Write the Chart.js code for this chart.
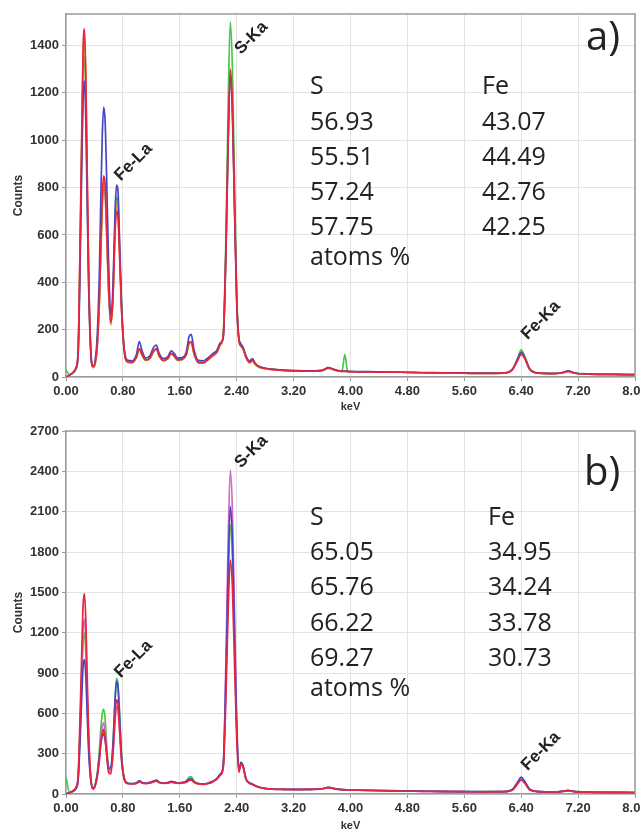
<!DOCTYPE html>
<html><head><meta charset="utf-8">
<script src="https://cdn.jsdelivr.net/npm/chart.js@4/dist/chart.umd.min.js"></script>
<style>
html,body{margin:0;padding:0;background:#fff;}
#wrap{position:relative;width:641px;height:836px;overflow:hidden;background:#fff;}
.pane{position:absolute;left:0;width:641px;height:418px;}
canvas{display:block;}
</style></head><body>
<div id="wrap">
<div class="pane" style="top:0"><canvas id="ca" width="641" height="418"></canvas></div>
<div class="pane" style="top:418px"><canvas id="cb" width="641" height="418"></canvas></div>
</div>
<script>
// ---------- data ----------
const energyKeV = [
 0.00,0.05,0.10,0.14,0.17,0.20,0.22,0.24,0.26,0.28,
 0.30,0.32,0.35,0.38,0.41,0.44,0.47,0.49,0.51,0.53,
 0.55,0.57,0.60,0.63,0.66,0.69,0.71,0.73,0.75,0.78,
 0.82,0.87,0.93,0.99,1.03,1.07,1.12,1.18,1.23,1.27,
 1.31,1.37,1.43,1.48,1.52,1.57,1.63,1.69,1.73,1.76,
 1.80,1.86,1.93,2.00,2.06,2.12,2.17,2.21,2.25,2.28,
 2.31,2.34,2.37,2.40,2.43,2.46,2.49,2.53,2.58,2.62,
 2.66,2.72,2.80,2.90,3.05,3.25,3.45,3.60,3.69,3.78,
 3.88,3.92,3.96,4.10,4.40,4.70,5.00,5.30,5.60,5.90,
 6.15,6.28,6.35,6.40,6.45,6.52,6.65,6.85,6.98,7.06,
 7.14,7.35,7.70,8.00];

const xTickKeV = [0,0.8,1.6,2.4,3.2,4.0,4.8,5.6,6.4,7.2,8.0];
const yTicksA = [0,200,400,600,800,1000,1200,1400];
const yTicksB = [0,300,600,900,1200,1500,1800,2100,2400,2700];
const yMaxA = 1533;
const yMaxB = 2700;

// panel a spectra (counts)
const redA = [
 0,8,20,40,110,600,1000,1380,1470,1250,
 820,420,110,45,60,140,340,560,760,850,
 810,650,370,230,330,610,700,680,540,290,
 110,65,62,85,120,95,72,80,110,120,
 90,70,78,100,90,72,75,95,145,150,
 100,62,60,75,90,105,140,170,560,1010,
 1300,1140,720,330,160,130,120,85,62,70,
 55,42,36,32,28,26,25,27,38,30,
 24,24,23,22,21,20,18,17,16,15,
 16,32,70,95,78,32,16,14,18,24,
 17,12,11,10];
const greenA = [
 30,10,18,35,95,560,930,1270,1350,1150,
 760,390,100,40,55,130,320,530,720,800,
 770,620,350,220,340,650,760,740,580,300,
 105,62,60,82,115,92,70,78,105,118,
 88,68,76,98,88,70,73,92,140,145,
 98,60,58,74,88,103,135,175,620,1150,
 1500,1300,820,360,165,135,118,82,60,68,
 52,40,35,31,28,26,25,27,36,29,
 24,95,24,22,21,20,18,17,16,15,
 16,35,80,115,88,35,16,14,18,25,
 17,12,11,10];
const blueA = [
 0,8,18,35,90,500,860,1170,1250,1060,
 700,360,95,45,70,180,450,760,1020,1140,
 1080,860,470,260,380,700,810,790,610,320,
 115,70,68,95,150,110,80,90,125,135,
 100,78,85,110,100,80,82,105,170,180,
 115,70,68,82,98,112,145,165,540,990,
 1270,1110,700,320,165,140,125,90,68,78,
 58,44,38,33,29,27,26,29,40,31,
 25,25,24,23,22,20,19,18,17,16,
 17,34,76,105,82,34,17,15,19,26,
 18,13,11,10];
const orangeA = [
 0,8,19,38,105,590,980,1350,1440,1220,
 800,410,105,42,58,135,330,545,735,820,
 790,630,360,225,335,630,730,710,560,295,
 108,63,61,84,118,93,71,79,108,119,
 89,69,77,99,89,71,74,94,142,148,
 99,61,59,74,89,104,138,168,555,1000,
 1290,1130,715,325,160,130,119,84,61,70,
 54,41,35,31,28,26,25,27,37,30,
 24,24,23,22,21,20,18,17,16,15,
 16,33,74,100,80,33,16,14,18,24,
 17,12,11,10];

// panel b spectra (counts)
const redB = [
 0,10,25,50,130,620,1020,1400,1490,1270,
 830,430,120,40,60,130,250,370,450,480,
 420,300,160,150,300,580,700,670,520,260,
 110,78,75,78,92,82,78,82,90,98,
 85,80,82,88,84,80,82,88,100,105,
 88,75,72,78,90,110,140,190,750,1360,
 1740,1530,960,420,160,220,200,110,80,70,
 60,48,40,36,34,33,34,38,48,38,
 32,31,30,28,25,22,20,18,17,16,
 17,30,75,105,80,30,17,15,19,25,
 18,13,12,11];
const greenB = [
 125,12,22,45,110,500,830,1130,1200,1020,
 670,350,100,38,70,160,330,490,600,630,
 560,380,200,180,360,700,860,820,640,300,
 115,80,78,82,98,85,80,85,95,102,
 88,82,84,92,88,82,84,95,125,130,
 95,78,74,80,92,112,145,200,860,1560,
 2000,1760,1100,480,170,230,205,112,82,72,
 62,50,42,37,35,34,35,39,50,39,
 33,32,31,29,26,23,21,19,18,17,
 18,32,80,110,84,32,18,16,20,26,
 19,14,12,11];
const blueB = [
 0,10,20,40,100,420,700,950,1000,860,
 570,300,95,40,65,140,280,380,430,450,
 400,310,190,200,370,700,840,800,620,290,
 112,80,78,82,98,86,80,86,96,104,
 88,82,84,94,90,82,84,95,110,115,
 92,78,75,82,94,115,150,205,920,1670,
 2140,1880,1180,510,180,235,210,115,84,74,
 63,50,42,37,35,34,35,39,50,40,
 33,32,31,29,26,23,21,19,18,17,
 18,36,90,125,95,36,18,16,20,27,
 19,14,12,11];
const magentaB = [
 0,10,22,45,115,540,890,1220,1300,1110,
 730,380,105,38,62,145,290,420,500,530,
 470,340,180,170,290,540,650,625,490,250,
 108,76,74,78,90,82,77,82,90,97,
 85,79,81,88,84,79,81,88,102,106,
 88,75,72,78,90,110,145,210,1040,1890,
 2410,2110,1330,570,175,225,205,112,82,72,
 61,49,41,36,34,33,34,38,48,38,
 32,31,30,28,25,22,20,18,17,16,
 17,33,82,115,86,33,17,15,19,25,
 18,13,12,11];

// composition tables (atoms %)
const colHeads = ['S','Fe'];
const sAtomsA  = ['56.93','55.51','57.24','57.75'];
const feAtomsA = ['43.07','44.49','42.76','42.25'];
const sAtomsB  = ['65.05','65.76','66.22','69.27'];
const feAtomsB = ['34.95','34.24','33.78','30.73'];
const unitLabel = 'atoms %';

// peak labels anchored in data coordinates (keV, counts)
const peakNames = ['S-Ka','Fe-La','Fe-Ka'];
const peakKeVA = [2.46, 0.77, 6.49];
const peakCntA = [1360, 826, 155];
const peakKeVB = [2.46, 0.77, 6.49];
const peakCntB = [2420, 860, 170];

// ---------- rendering ----------
const TXT = '#222222';
const AX = '#9a9a9a';
const GRID = '#e3e3e3';

function pts(arr){ return energyKeV.map((e,i)=>({x:e, y:arr[i]})); }

function ds(arr, color){
  return {data: pts(arr), borderColor: color, borderWidth: 1.7, pointRadius: 0,
          fill: false, cubicInterpolationMode: 'monotone'};
}

function overlay(cfg){
  return {
    id: 'overlay',
    afterDatasetsDraw(chart){
      const ctx = chart.ctx, a = chart.chartArea;
      const xs = chart.scales.x, ys = chart.scales.y;
      ctx.save();
      // box top + right
      ctx.strokeStyle = AX; ctx.lineWidth = 1.5;
      ctx.beginPath();
      ctx.moveTo(a.left, a.top); ctx.lineTo(a.right, a.top); ctx.lineTo(a.right, a.bottom);
      ctx.stroke();
      // composition table
      ctx.fillStyle = TXT;
      ctx.font = '25px "Open Sans"';
      ctx.textBaseline = 'alphabetic';
      ctx.textAlign = 'left';
      ctx.fillText(colHeads[0], cfg.colX[0], cfg.rowY[0]);
      ctx.fillText(colHeads[1], cfg.colX[1], cfg.rowY[0]);
      for (let i = 0; i < cfg.s.length; i++){
        ctx.fillText(cfg.s[i], cfg.colX[0], cfg.rowY[i+1]);
        ctx.fillText(cfg.fe[i], cfg.colX[1], cfg.rowY[i+1]);
      }
      ctx.fillText(unitLabel, cfg.colX[0], cfg.rowY[5]);
      // panel letter
      ctx.font = '40px "Open Sans"';
      ctx.fillText(cfg.letter, cfg.letterX, cfg.letterY);
      // peak labels
      ctx.font = 'bold 17px "Liberation Sans"';
      for (let i = 0; i < peakNames.length; i++){
        const px = xs.getPixelForValue(cfg.pk[i]);
        const py = ys.getPixelForValue(cfg.pc[i]);
        ctx.save();
        ctx.translate(px, py);
        ctx.rotate(-Math.PI/4);
        ctx.fillText(peakNames[i], 0, 0);
        ctx.restore();
      }
      ctx.restore();
    }
  };
}

function makeChart(id, sets, yTicks, yMax, topPad, xH, keVPad, cfg){
  return new Chart(document.getElementById(id), {
    type: 'line',
    data: {datasets: sets},
    options: {
      responsive: false, animation: false, devicePixelRatio: 1,
      parsing: false, normalized: true,
      layout: {autoPadding: false, padding: {left: 0, right: 6, top: topPad, bottom: 0}},
      plugins: {legend: {display: false}, tooltip: {enabled: false}},
      scales: {
        x: {
          type: 'linear', min: 0, max: 8,
          afterBuildTicks: s => { s.ticks = xTickKeV.map(v => ({value: v})); },
          afterFit: s => { s.height = xH; s.paddingLeft = 0; s.paddingRight = 0; },
          ticks: {autoSkip: false, maxRotation: 0, padding: 3, color: '#333',
                  font: {family: '"Liberation Sans", Arial', size: 13, weight: 'bold'},
                  callback: v => Number(v).toFixed(2)},
          grid: {color: GRID, lineWidth: 1, tickLength: 4, tickColor: AX},
          border: {color: AX, width: 1.5},
          title: {display: true, text: 'keV', color: '#333',
                  font: {family: '"Liberation Sans", Arial', size: 11, weight: 'bold'},
                  padding: {top: 0, bottom: keVPad}}
        },
        y: {
          type: 'linear', min: 0, max: yMax,
          afterBuildTicks: s => { s.ticks = yTicks.map(v => ({value: v})); },
          afterFit: s => { s.width = 66; s.paddingTop = 0; s.paddingBottom = 0; },
          ticks: {padding: 3, color: '#333',
                  font: {family: '"Liberation Sans", Arial', size: 13, weight: 'bold'},
                  callback: v => String(v)},
          grid: {color: GRID, lineWidth: 1, tickLength: 4, tickColor: AX},
          border: {color: AX, width: 1.5},
          title: {display: true, text: 'Counts', color: '#333',
                  font: {family: '"Liberation Sans", Arial', size: 12, weight: 'bold'},
                  padding: {top: 11, bottom: 0}}
        }
      }
    },
    plugins: [overlay(cfg)]
  });
}

makeChart('ca',
  [ds(redA,'#e8253c'), ds(blueA,'#4646c8'), ds(orangeA,'#f0922e'), ds(greenA,'#46c846')],
  yTicksA, yMaxA, 14, 41, 4,
  {colX: [310, 482], rowY: [94, 130, 165, 200, 235, 265], s: sAtomsA, fe: feAtomsA,
   letter: 'a)', letterX: 586, letterY: 50, pk: peakKeVA, pc: peakCntA});

makeChart('cb',
  [ds(redB,'#e8253c'), ds(blueB,'#4646c8'), ds(magentaB,'#d26ac8'), ds(greenB,'#46c846')],
  yTicksB, yMaxB, 13, 42, 3,
  {colX: [310, 488], rowY: [107, 142, 177, 213, 248, 278], s: sAtomsB, fe: feAtomsB,
   letter: 'b)', letterX: 584, letterY: 67, pk: peakKeVB, pc: peakCntB});
</script>
</body></html>
